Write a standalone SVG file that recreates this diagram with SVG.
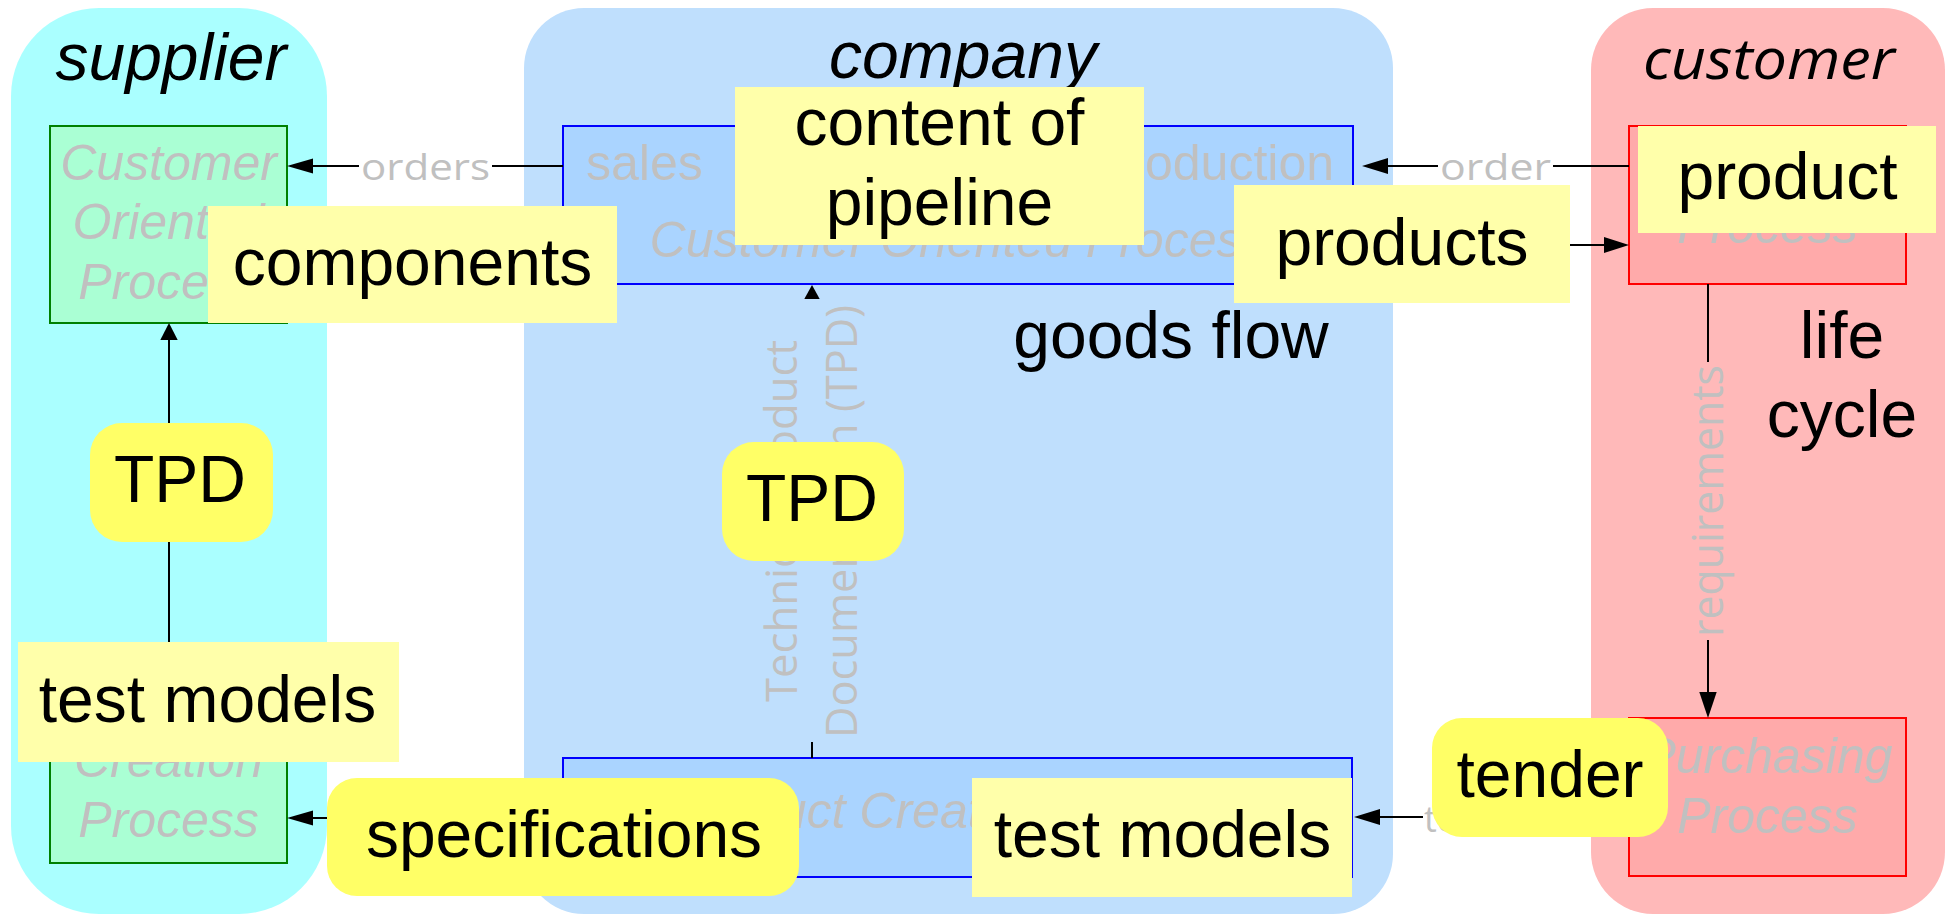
<svg xmlns="http://www.w3.org/2000/svg" width="1948" height="917" viewBox="0 0 1948 917">
<style>
.lane{stroke:none}
.t{font-family:"Liberation Sans",Arial,sans-serif;font-size:66px;fill:#000}
.ti{font-family:"Liberation Sans",Arial,sans-serif;font-size:66px;font-style:italic;fill:#000}
.gi{font-family:"Liberation Sans",Arial,sans-serif;font-size:50px;font-style:italic;fill:#c0c0c0}
.gu{font-family:"Liberation Sans",Arial,sans-serif;font-size:50px;fill:#c0c0c0}
.gl{font-family:"Open Sans","DejaVu Sans",sans-serif;font-size:36px;fill:#c0c0c0}
.gr{font-family:"Open Sans","DejaVu Sans",sans-serif;font-size:44px;fill:#c0c0c0}
.green{fill:#aaffd4;stroke:#008000;stroke-width:2}
.blue{fill:#aad4ff;stroke:#0000ff;stroke-width:2}
.red{fill:#ffaaaa;stroke:#ff0000;stroke-width:2}
.ly{fill:#ffffaa}
.by{fill:#ffff66}
.ln{stroke:#000;stroke-width:2;fill:none}
.ah{fill:#000}
.m{text-anchor:middle}
</style>
<g id="lanes">
<g id="lane-supplier">
<rect class="lane" x="11" y="8" width="316" height="906" rx="88" ry="88" fill="#aaffff"/>
<text class="ti m" x="171" y="80">supplier</text>
</g>
<g id="lane-company">
<rect class="lane" x="524" y="8" width="869" height="906" rx="60" ry="60" fill="#bfdffd"/>
<text class="ti m" x="963" y="78">company</text>
</g>
<g id="lane-customer">
<rect class="lane" x="1591" y="8" width="354" height="906" rx="62" ry="62" fill="#ffb9b9"/>
<text class="m" x="1769" y="79" style="font-family:'Open Sans','DejaVu Sans',sans-serif;font-style:italic;font-size:56px;fill:#000" textLength="252" lengthAdjust="spacingAndGlyphs">customer</text>
</g>
</g>

<g id="sup-cop">
<rect class="green" x="50" y="126" width="237" height="197"/>
<text class="gi m" x="168.5" y="180">Customer</text>
<text class="gi m" x="168.5" y="239">Oriented</text>
<text class="gi m" x="168.5" y="299">Process</text>
</g>
<g id="sup-pcp">
<rect class="green" x="50" y="666" width="237" height="197"/>
<text class="gi m" x="168.5" y="777">Creation</text>
<text class="gi m" x="168.5" y="837">Process</text>
</g>
<g id="com-cop">
<rect class="blue" x="563" y="126" width="790" height="158"/>
<text class="gu" x="586" y="180">sales</text>
<text class="gu" x="1334" y="180" text-anchor="end">production</text>
<text class="gi m" x="958" y="257">Customer Oriented Process</text>
</g>
<g id="com-pcp">
<rect class="blue" x="563" y="758" width="789" height="119"/>
<text class="gi m" x="958" y="828">Product Creation Process</text>
</g>
<g id="cus-pp">
<rect class="red" x="1629" y="126" width="277" height="158"/>
<text class="gi m" x="1767.5" y="243">Process</text>
</g>
<g id="cus-pur">
<rect class="red" x="1629" y="718" width="277" height="158"/>
<text class="gi m" x="1767.5" y="773">Purchasing</text>
<text class="gi m" x="1767.5" y="833">Process</text>
</g>

<g id="connectors">
<!-- orders -->
<line class="ln" x1="563" y1="166" x2="492" y2="166"/>
<line class="ln" x1="359" y1="166" x2="305" y2="166"/>
<polygon class="ah" points="287,166 313,158.5 313,173.5"/>
<text class="gl" x="361" y="180" textLength="129" lengthAdjust="spacingAndGlyphs">orders</text>
<!-- order -->
<line class="ln" x1="1629" y1="166" x2="1553" y2="166"/>
<line class="ln" x1="1438" y1="166" x2="1380" y2="166"/>
<polygon class="ah" points="1362,166 1388,158 1388,174"/>
<text class="gl" x="1440" y="180" textLength="111" lengthAdjust="spacingAndGlyphs">order</text>
<!-- products -->
<line class="ln" x1="1570" y1="245" x2="1608" y2="245"/>
<polygon class="ah" points="1629,245 1604,237 1604,253"/>
<!-- requirements -->
<line class="ln" x1="1708" y1="284" x2="1708" y2="362"/>
<line class="ln" x1="1708" y1="640" x2="1708" y2="696"/>
<polygon class="ah" points="1708,718 1699.3,692 1716.7,692"/>
<text class="gr" transform="translate(1723,637) rotate(-90)" textLength="272" lengthAdjust="spacingAndGlyphs">requirements</text>
<!-- tender -->
<line class="ln" x1="1423" y1="817" x2="1372" y2="817"/>
<polygon class="ah" points="1354,817 1380,809 1380,825"/>
<text class="gl" x="1424" y="832">tender</text>
<!-- specifications -->
<line class="ln" x1="330" y1="818" x2="305" y2="818"/>
<polygon class="ah" points="287,818 313,810.5 313,825.5"/>
<!-- left TPD -->
<line class="ln" x1="169" y1="666" x2="169" y2="336"/>
<polygon class="ah" points="169,323 160.3,340 177.7,340"/>
<!-- center TPD -->
<line class="ln" x1="812" y1="758" x2="812" y2="742"/>
<polygon class="ah" points="812,285 804.3,299 819.7,299"/>
<text class="gr" transform="translate(797,702) rotate(-90)" textLength="362" lengthAdjust="spacingAndGlyphs">Technical Product</text>
<text class="gr" transform="translate(857,738) rotate(-90)" textLength="433" lengthAdjust="spacingAndGlyphs">Documentation (TPD)</text>
</g>

<g id="goods-flow"><text class="t" x="1171" y="358" text-anchor="middle">goods flow</text></g>
<g id="life-cycle">
<text class="t m" x="1842" y="358">life</text>
<text class="t m" x="1842" y="437">cycle</text>
</g>

<g id="lbl-components">
<rect class="ly" x="208" y="206" width="409" height="117"/>
<text class="t m" x="412.5" y="285">components</text>
</g>
<g id="lbl-pipeline">
<rect class="ly" x="735" y="87" width="409" height="158"/>
<text class="t m" x="939.5" y="145">content of</text>
<text class="t m" x="939.5" y="225">pipeline</text>
</g>
<g id="lbl-products">
<rect class="ly" x="1234" y="185" width="336" height="118"/>
<text class="t m" x="1402" y="265">products</text>
</g>
<g id="lbl-product">
<rect class="ly" x="1638" y="126" width="298" height="107"/>
<text class="t m" x="1787.5" y="199">product</text>
</g>
<g id="lbl-tpd-left">
<rect class="by" x="90" y="423" width="183" height="119" rx="32" ry="32"/>
<text class="t m" x="180" y="502">TPD</text>
</g>
<g id="lbl-tpd-center">
<rect class="by" x="722" y="442" width="182" height="119" rx="32" ry="32"/>
<text class="t m" x="812" y="521">TPD</text>
</g>
<g id="lbl-testmodels-left">
<rect class="ly" x="18" y="642" width="381" height="120"/>
<text class="t m" x="207.5" y="722">test models</text>
</g>
<g id="lbl-specifications">
<rect class="by" x="327" y="778" width="472" height="118" rx="30" ry="30"/>
<text class="t m" x="564" y="857">specifications</text>
</g>
<g id="lbl-testmodels-right">
<rect class="ly" x="972" y="778" width="380" height="119"/>
<text class="t m" x="1162.5" y="857">test models</text>
</g>
<g id="lbl-tender">
<rect class="by" x="1432" y="718" width="236" height="119" rx="30" ry="30"/>
<text class="t m" x="1550" y="797">tender</text>
</g>
</svg>
